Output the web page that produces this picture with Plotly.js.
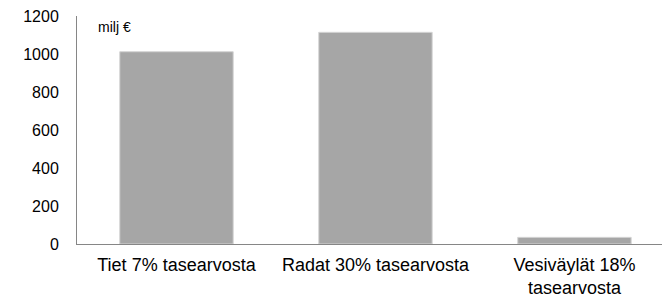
<!DOCTYPE html>
<html>
<head>
<meta charset="utf-8">
<script src="https://cdn.plot.ly/plotly-3.0.1.min.js"></script>
<style>html,body{margin:0;padding:0;background:#fff;}</style>
</head>
<body>
<div id="chart" style="width:662px;height:302px;"></div>
<script>
var categories = ["Tiet 7% tasearvosta", "Radat 30% tasearvosta", "Vesiväylät 18%<br>tasearvosta"];
var values = [1012, 1114, 35];
var yTicks = [0, 200, 400, 600, 800, 1000, 1200];
var unitLabel = "milj €";

var trace = {
  type: "bar",
  x: categories,
  y: values,
  width: 0.57,
  marker: {color: "#a6a6a6", line: {color: "#d4d4d4", width: 1}},
  hoverinfo: "none"
};

var layout = {
  width: 662, height: 302,
  margin: {l: 77, r: 0, t: 16, b: 58, pad: 0},
  paper_bgcolor: "#fff", plot_bgcolor: "#fff",
  font: {family: "Liberation Sans, Arial, sans-serif", size: 16, color: "#000"},
  showlegend: false,
  xaxis: {
    type: "category",
    range: [-0.5, 2.44],
    showline: true, linecolor: "#868686", linewidth: 1,
    showgrid: false, zeroline: false,
    ticks: "outside", ticklen: 4, tickcolor: "rgba(0,0,0,0)",
    tickfont: {size: 18}
  },
  yaxis: {
    range: [0, 1200],
    tickvals: yTicks,
    showline: true, linecolor: "#868686", linewidth: 1,
    showgrid: false, zeroline: false,
    ticks: "outside", ticklen: 14, tickcolor: "rgba(0,0,0,0)",
    tickfont: {size: 16}
  },
  annotations: [{
    text: unitLabel, xref: "paper", yref: "paper",
    x: 0.032, y: 0.95, xanchor: "left", yanchor: "middle",
    showarrow: false, font: {size: 14, color: "#000"}
  }]
};

Plotly.newPlot("chart", [trace], layout, {displayModeBar: false, staticPlot: true});
</script>
</body>
</html>
